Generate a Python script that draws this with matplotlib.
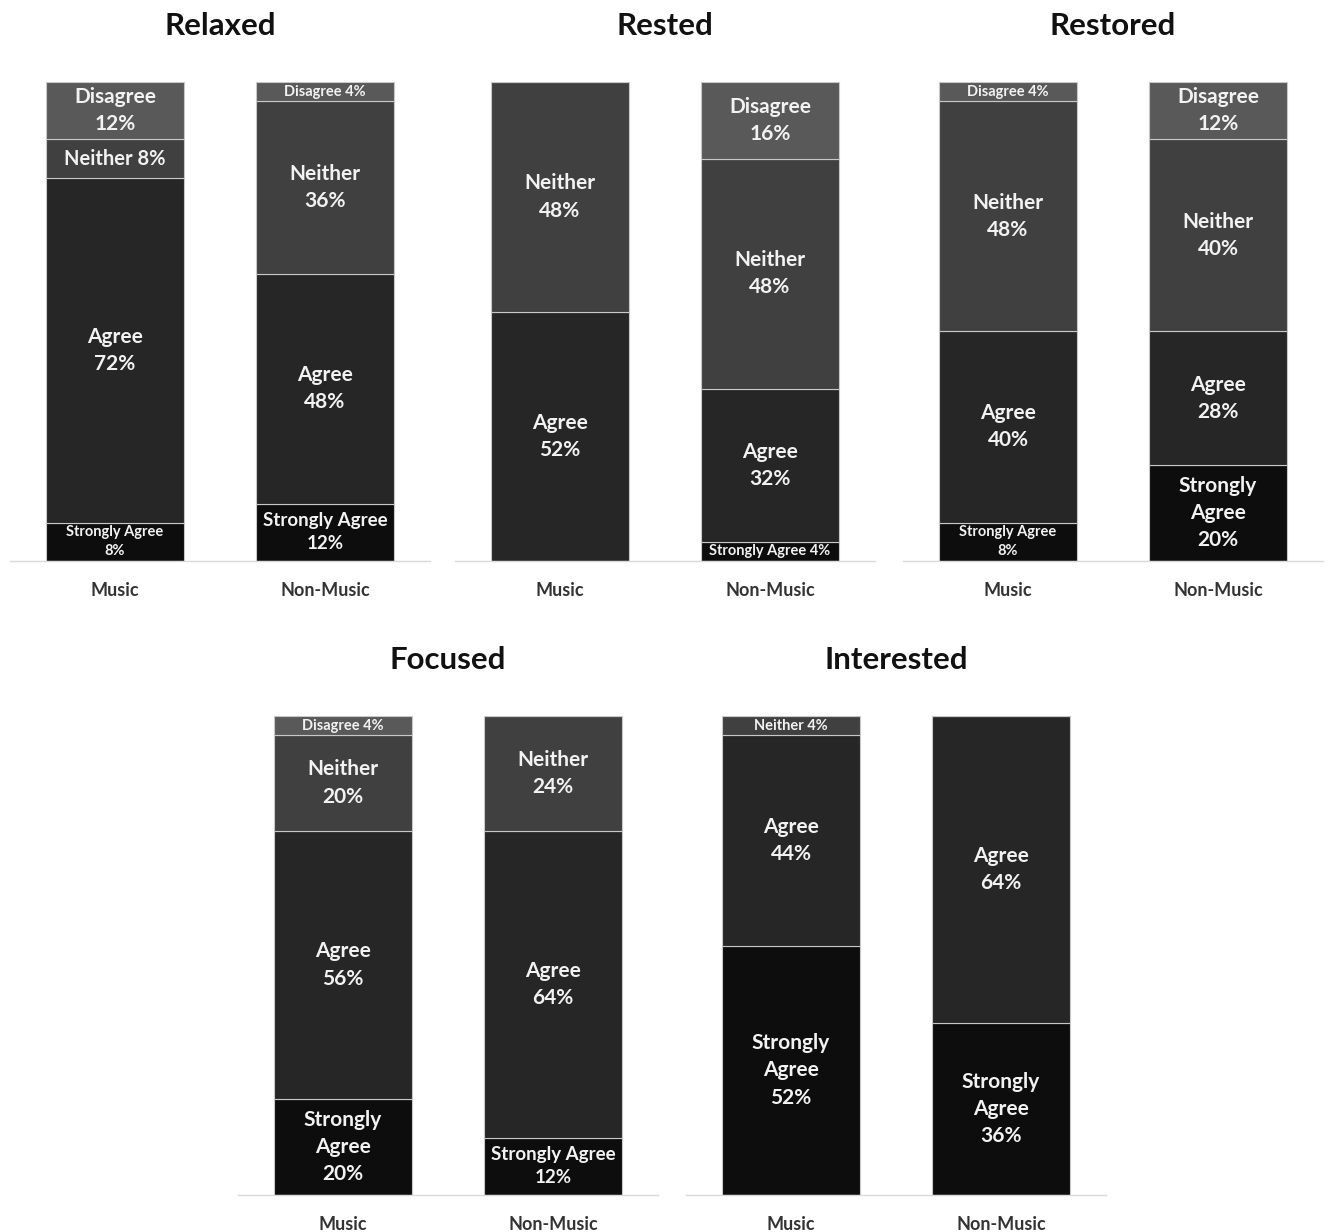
import numpy as np
import matplotlib
matplotlib.use('Agg')
import matplotlib.pyplot as plt

plt.rcParams['font.family'] = ['Lato', 'DejaVu Sans']
plt.rcParams['font.weight'] = 'bold'

groups = ['Music', 'Non-Music']
categories = ['Strongly Agree', 'Agree', 'Neither', 'Disagree']
colors = ['#0d0d0d', '#262626', '#404040', '#595959']

# percentages per group, in category order (Strongly Agree, Agree, Neither, Disagree)
relaxed_music = [8, 72, 8, 12]
relaxed_nonmusic = [12, 48, 36, 4]
rested_music = [0, 52, 48, 0]
rested_nonmusic = [4, 32, 48, 16]
restored_music = [8, 40, 48, 4]
restored_nonmusic = [20, 28, 40, 12]
focused_music = [20, 56, 20, 4]
focused_nonmusic = [12, 64, 24, 0]
interested_music = [52, 44, 4, 0]
interested_nonmusic = [36, 64, 0, 0]

charts = [
    ('Relaxed', relaxed_music, relaxed_nonmusic),
    ('Rested', rested_music, rested_nonmusic),
    ('Restored', restored_music, restored_nonmusic),
    ('Focused', focused_music, focused_nonmusic),
    ('Interested', interested_music, interested_nonmusic),
]

# axes left edge / baseline in pixels
W, H = 1333, 1232
boxes = [
    (10, 561), (455, 561), (903, 561),
    (238, 1195), (686, 1195),
]


def seg_label(cat, v):
    if v <= 4:
        return f'{cat} {v}%', 10.5
    if cat == 'Strongly Agree':
        if v >= 20:
            return f'Strongly\nAgree\n{v}%', 15
        if v >= 12:
            return f'Strongly Agree\n{v}%', 13.5
        return f'Strongly Agree\n{v}%', 10.5
    if v <= 8:
        return f'{cat} {v}%', 14.5
    return f'{cat}\n{v}%', 15


fig = plt.figure(figsize=(W / 100, H / 100), dpi=100)

for (title, music, nonmusic), (x0, base) in zip(charts, boxes):
    ax = fig.add_axes([x0 / W, 1 - base / H, 420 / W, 479 / H])
    x = np.arange(len(groups))
    vals = np.array([music, nonmusic])
    bottom = np.zeros(len(groups))
    for j, cat in enumerate(categories):
        h = vals[:, j]
        ax.bar(x, h, bottom=bottom, width=0.66, color=colors[j],
               edgecolor='#c8c8c8', linewidth=0.8)
        for i in range(len(groups)):
            if h[i] > 0:
                txt, fs = seg_label(cat, int(h[i]))
                ax.text(x[i], bottom[i] + h[i] / 2, txt, ha='center', va='center',
                        color='#f2f2f2', fontsize=fs, fontweight='bold',
                        linespacing=1.45)
        bottom = bottom + h
    ax.set_xlim(-0.5, 1.5)
    ax.set_ylim(0, 100)
    ax.set_xticks(x)
    ax.set_xticklabels(groups, fontsize=13, fontweight='bold', color='#333333')
    ax.tick_params(axis='x', length=0, pad=15)
    ax.set_yticks([])
    for s in ['top', 'left', 'right']:
        ax.spines[s].set_visible(False)
    ax.spines['bottom'].set_color('#d9d9d9')
    ax.spines['bottom'].set_linewidth(1.0)
    ax.set_title(title, fontsize=22.5, fontweight='bold', color='#111111', pad=34)

plt.savefig('out.png', dpi=100)
